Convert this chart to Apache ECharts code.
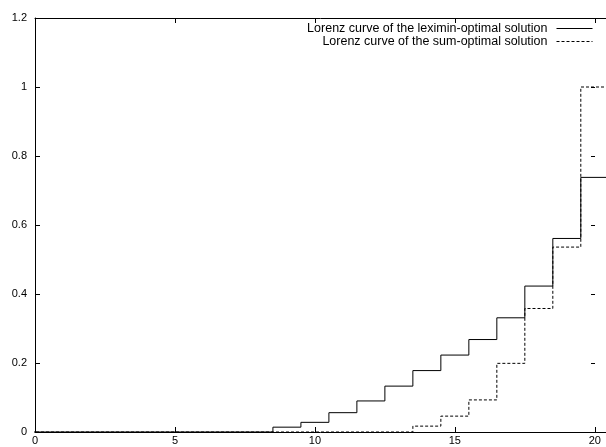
<!DOCTYPE html>
<html>
<head>
<meta charset="utf-8">
<script src="https://cdn.jsdelivr.net/npm/echarts@6/dist/echarts.min.js"></script>
<style>
  html, body { margin: 0; padding: 0; background: #fff; }
  #chart { width: 606px; height: 447px; }
</style>
</head>
<body>
<div id="chart"></div>
<script>
// x positions (agent index) and the two Lorenz curves
var xValues = [0, 1, 2, 3, 4, 5, 6, 7, 8, 9, 10, 11, 12, 13, 14, 15, 16, 17, 18, 19, 20];
var leximin = [0, 0, 0, 0, 0, 0, 0, 0, 0, 0.014, 0.028, 0.056, 0.090, 0.133, 0.178, 0.223, 0.268, 0.331, 0.423, 0.561, 0.738];
var sumOptimal = [0, 0, 0, 0, 0, 0, 0, 0, 0, 0, 0, 0, 0, 0, 0.017, 0.046, 0.093, 0.199, 0.358, 0.536, 1.0];
var xTicks = [0, 5, 10, 15, 20];
var yTicks = [0, 0.2, 0.4, 0.6, 0.8, 1, 1.2];

// gnuplot "histeps": each value spans [x-0.5, x+0.5]
function histeps(vals) {
    var pts = [];
    for (var i = 0; i < xValues.length; i++) {
        pts.push([xValues[i] - 0.5, vals[i]]);
    }
    var last = xValues.length - 1;
    pts.push([xValues[last] + 0.5, vals[last]]);
    return pts;
}

var font = 'Liberation Sans, Arial, Helvetica, sans-serif';
var border = { show: true, onZero: false, lineStyle: { color: '#000', width: 1 } };

var option = {
    animation: false,
    backgroundColor: '#fff',
    legend: {
        orient: 'vertical',
        right: 8,
        top: 17,
        align: 'right',
        itemWidth: 36,
        itemHeight: 8,
        itemGap: 0,
        itemStyle: { opacity: 0 },
        lineStyle: { width: 1 },
        textStyle: {
            fontFamily: font,
            fontSize: 12.5,
            lineHeight: 13,
            color: '#000',
            padding: [0, 4, 0, 0]
        },
        data: ['Lorenz curve of the leximin-optimal solution', 'Lorenz curve of the sum-optimal solution']
    },
    grid: {
        left: 35,
        right: 0,
        top: 18,
        bottom: 15
    },
    xAxis: [{
        type: 'value', min: 0, max: 20.4, interval: 5, position: 'bottom',
        splitLine: { show: false },
        axisLine: border,
        axisTick: { show: false },
        axisLabel: { color: '#000', fontFamily: font, fontSize: 11, margin: 3, showMaxLabel: false }
    }, {
        type: 'value', min: 0, max: 20.4, interval: 5, position: 'top',
        splitLine: { show: false },
        axisLine: border,
        axisTick: { show: false },
        axisLabel: { show: false }
    }],
    yAxis: [{
        type: 'value', min: 0, max: 1.2, interval: 0.2, position: 'left',
        splitLine: { show: false },
        axisLine: border,
        axisTick: { show: false },
        axisLabel: { color: '#000', fontFamily: font, fontSize: 11, margin: 8 }
    }, {
        type: 'value', min: 0, max: 1.2, interval: 0.2, position: 'right', offset: -11,
        splitLine: { show: false },
        axisLine: { show: false, onZero: false },
        axisTick: { show: true, inside: true, length: 4, lineStyle: { color: '#000', width: 1 } },
        axisLabel: { show: false }
    }],
    series: [{
        name: 'Lorenz curve of the leximin-optimal solution',
        type: 'line',
        step: 'end',
        symbol: 'none',
        clip: true,
        lineStyle: { color: '#000', width: 1 },
        itemStyle: { color: '#000' },
        data: histeps(leximin)
    }, {
        name: 'Lorenz curve of the sum-optimal solution',
        type: 'line',
        step: 'end',
        symbol: 'none',
        clip: true,
        lineStyle: { color: '#000', width: 1, type: [3, 2] },
        itemStyle: { color: '#000' },
        data: histeps(sumOptimal)
    }]
};

var chart = echarts.init(document.getElementById('chart'));
chart.setOption(option, true);

// inward tick marks on the bottom, top and left borders, placed through the axes' scales
var tickLen = 5;
var marks = [];
var yBottom = chart.convertToPixel({ yAxisIndex: 0 }, 0);
var yTop = chart.convertToPixel({ yAxisIndex: 0 }, 1.2);
var xLeft = chart.convertToPixel({ xAxisIndex: 0 }, 0);
function seg(x1, y1, x2, y2) {
    return {
        type: 'line', silent: true, z: 10,
        shape: { x1: x1, y1: y1, x2: x2, y2: y2 },
        style: { stroke: '#000', lineWidth: 1 }
    };
}
xTicks.forEach(function (v) {
    var px = Math.round(chart.convertToPixel({ xAxisIndex: 0 }, v)) + 0.5;
    marks.push(seg(px, yBottom, px, yBottom - tickLen));
    marks.push(seg(px, yTop, px, yTop + tickLen));
});
yTicks.forEach(function (v) {
    var py = Math.round(chart.convertToPixel({ yAxisIndex: 0 }, v)) + 0.5;
    marks.push(seg(xLeft, py, xLeft + tickLen, py));
});
chart.setOption({ graphic: marks });
</script>
</body>
</html>
